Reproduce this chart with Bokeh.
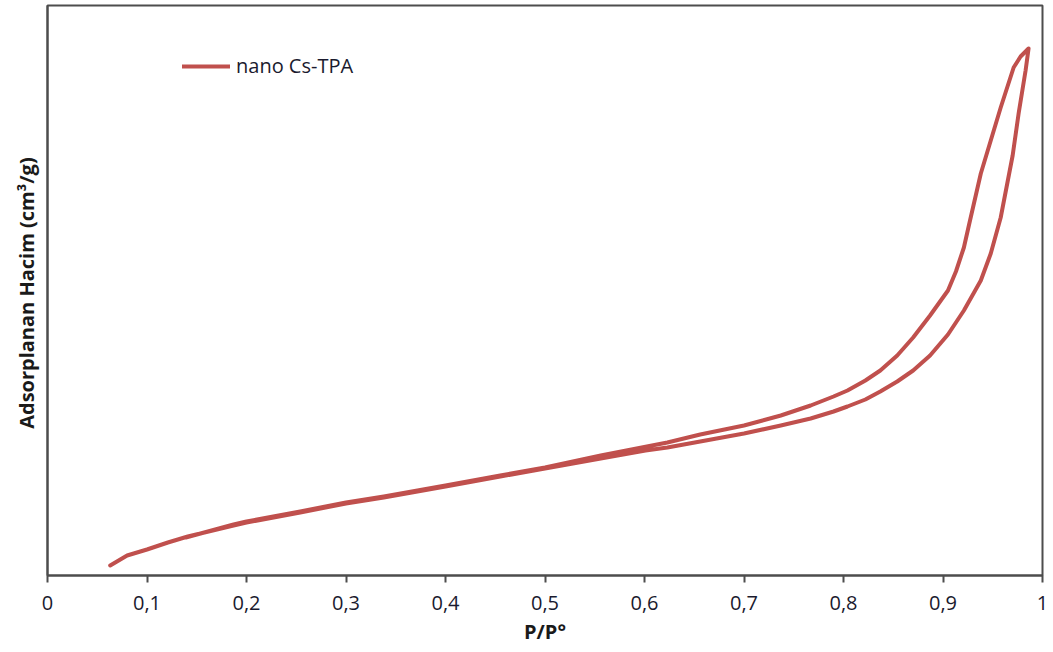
from bokeh.plotting import figure
from bokeh.models import FixedTicker, CustomJSTickFormatter, Range1d, Legend, LegendItem
from bokeh.embed import file_html
from bokeh.resources import INLINE

# Nitrogen sorption isotherm of nano Cs-TPA (relative pressure vs adsorbed volume, arbitrary units)
ads_p = [0.063, 0.080, 0.100, 0.121, 0.141, 0.187, 0.200, 0.254, 0.300, 0.338,
         0.400, 0.455, 0.500, 0.556, 0.601, 0.623, 0.656, 0.700, 0.737, 0.767,
         0.790, 0.804, 0.822, 0.837, 0.854, 0.870, 0.887, 0.905, 0.921, 0.938,
         0.948, 0.958, 0.970, 0.976, 0.983, 0.986]
ads_v = [10, 20, 26, 33, 39, 50, 53, 63, 72, 78,
         89, 99, 107, 117, 125, 128, 134, 142, 150, 157,
         164, 169, 176, 184, 194, 205, 220, 241, 265, 295,
         322, 358, 420, 462, 505, 527]

des_p = [0.986, 0.978, 0.971, 0.958, 0.948, 0.938, 0.926, 0.921, 0.913, 0.905,
         0.887, 0.870, 0.854, 0.837, 0.822, 0.804, 0.790, 0.767, 0.737, 0.700,
         0.656, 0.623, 0.556, 0.500, 0.455, 0.400, 0.338, 0.300, 0.254, 0.200,
         0.187, 0.139]
des_v = [527, 519, 508, 468, 435, 402, 350, 328, 304, 285,
         260, 238, 220, 205, 195, 185, 179, 170, 160, 150,
         141, 133, 120, 108, 100, 90, 79, 73, 64, 54,
         51, 38]

x_ticks = [0, 0.1, 0.2, 0.3, 0.4, 0.5, 0.6, 0.7, 0.8, 0.9, 1.0]
series_name = "nano Cs-TPA"

RED = "#C0504D"
AXIS = "#4d4d4d"
FONT = "Open Sans"

p = figure(width=1053, height=652, output_backend="svg", toolbar_location=None,
           x_range=Range1d(0, 1), y_range=Range1d(0, 570),
           min_border_left=47, min_border_right=11, min_border_top=5, min_border_bottom=77)

p.grid.visible = False
p.background_fill_color = "white"
p.border_fill_color = "white"
p.outline_line_color = AXIS
p.outline_line_width = 2

loop = p.line(ads_p + des_p, ads_v + des_v, line_color=RED, line_width=4,
              line_join="round", line_cap="round")

# x axis
xa = p.xaxis[0]
xa.ticker = FixedTicker(ticks=x_ticks)
xa.formatter = CustomJSTickFormatter(code="""
    if (Math.abs(tick - Math.round(tick)) < 1e-9) { return String(Math.round(tick)); }
    return tick.toFixed(1).replace('.', ',');
""")
xa.axis_line_color = AXIS
xa.axis_line_width = 2
xa.major_tick_line_color = AXIS
xa.major_tick_line_width = 2
xa.major_tick_in = 0
xa.major_tick_out = 7
xa.minor_tick_line_color = None
xa.major_label_text_font = FONT
xa.major_label_text_font_size = "20px"
xa.major_label_text_color = "#1a1a2e"
xa.major_label_standoff = 13
xa.axis_label = "P/P°"
xa.axis_label_text_font = FONT
xa.axis_label_text_font_style = "bold"
xa.axis_label_text_font_size = "20px"
xa.axis_label_text_color = "#1a1a1a"
xa.axis_label_standoff = 5

# y axis: label only
ya = p.yaxis[0]
ya.ticker = FixedTicker(ticks=[])
ya.major_label_text_font_size = "0px"
ya.major_tick_line_color = None
ya.minor_tick_line_color = None
ya.axis_line_color = AXIS
ya.axis_line_width = 2
ya.axis_label = "Adsorplanan Hacim  (cm³/g)"
ya.axis_label_text_font = FONT
ya.axis_label_text_font_style = "bold"
ya.axis_label_text_font_size = "20px"
ya.axis_label_text_color = "#1a1a1a"
ya.axis_label_standoff = 8

legend = Legend(items=[LegendItem(label=series_name, renderers=[loop])],
                location=(135, 496), padding=0, margin=0, spacing=0,
                glyph_width=48, glyph_height=24, label_standoff=6,
                label_text_font=FONT, label_text_font_size="20px",
                label_text_color="#1a1a2e",
                border_line_color=None, background_fill_alpha=0)
p.add_layout(legend)

open("out.html", "w").write(file_html(p, INLINE))
